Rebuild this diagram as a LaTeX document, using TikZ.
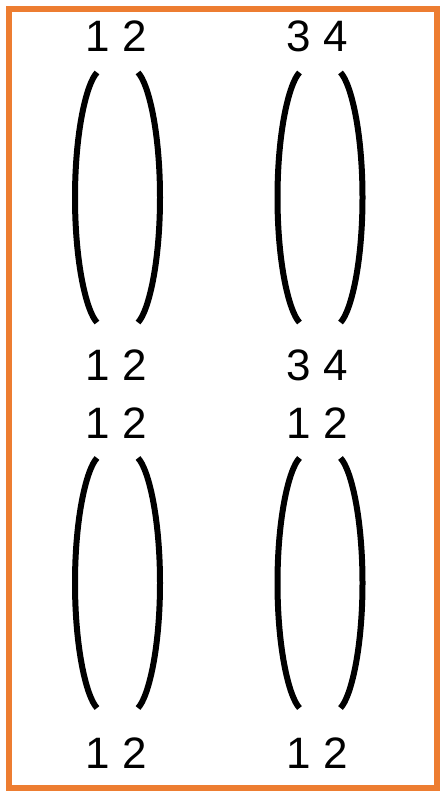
\documentclass[tikz,border=0pt]{standalone}
\usepackage{fontspec}
\setmainfont{Liberation Sans}
\usepackage{xcolor}
\usepackage{tikz}
\definecolor{frame}{HTML}{ED7D31}

\begin{document}
\begin{tikzpicture}[
    x=1pt, y=-1pt,
    lbl/.style={anchor=base, inner sep=0pt, font=\fontsize{44}{50}\selectfont},
    bow/.style={line width=6pt, black}
  ]

    \useasboundingbox (0,0) rectangle (442,792);
    \draw[frame, line width=5.5pt] (9,9) rectangle (437,788);

    % labels above and below each pair
    \node[lbl] (topA) at (116,52) {1 2};
    \node[lbl] (topB) at (317.5,52) {3 4};
    \node[lbl] (midA) at (116,380) {1 2};
    \node[lbl] (midB) at (317.5,380) {3 4};
    \node[lbl] (upA) at (116,438) {1 2};
    \node[lbl] (upB) at (317.5,438) {1 2};
    \node[lbl] (botA) at (116,768) {1 2};
    \node[lbl] (botB) at (317.5,768) {1 2};

    % centres of the four pairs of bows
    \coordinate (pairA) at (117.5,197.5);
    \coordinate (pairB) at (320,197.5);
    \coordinate (pairC) at (117.5,583);
    \coordinate (pairD) at (320,583);

    \foreach \p in {pairA, pairB, pairC, pairD} {
      \begin{scope}[shift={(\p)}]
        \draw[bow] (-20.5,-125) .. controls (-31,-114) and (-42.5,-66) .. (-42.5,0)
                   .. controls (-42.5,66) and (-31,114) .. (-20.5,125);
        \draw[bow] (20.5,-125) .. controls (31,-114) and (42.5,-66) .. (42.5,0)
                   .. controls (42.5,66) and (31,114) .. (20.5,125);
      \end{scope}
    }

  \end{tikzpicture}
\end{document}
